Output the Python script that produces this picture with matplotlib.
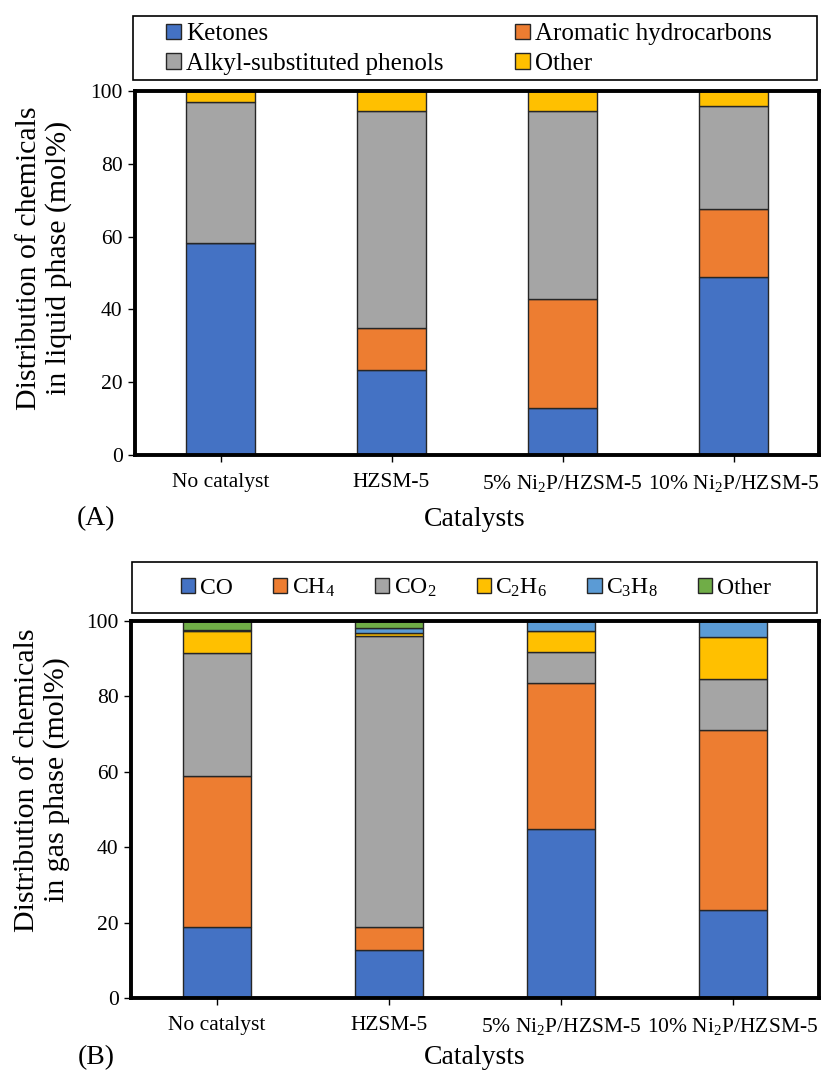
import matplotlib
matplotlib.use("Agg")
import matplotlib.pyplot as plt
from matplotlib.patches import Patch, Rectangle

plt.rcParams['font.family'] = ['Liberation Serif', 'DejaVu Serif']
plt.rcParams['mathtext.fontset'] = 'custom'
plt.rcParams['mathtext.rm'] = 'Liberation Serif'
plt.rcParams['mathtext.it'] = 'Liberation Serif:italic'
plt.rcParams['mathtext.bf'] = 'Liberation Serif:bold'

catalysts = ['No catalyst', 'HZSM-5', '5% Ni$_2$P/HZSM-5', '10% Ni$_2$P/HZSM-5']

# Liquid phase (mol%)
liq_labels = ['Ketones', 'Aromatic hydrocarbons', 'Alkyl-substituted phenols', 'Other']
ketones = [58.2, 23.4, 12.9, 48.9]
aromatics = [0.0, 11.4, 30.0, 18.8]
phenols = [38.8, 59.8, 51.7, 28.2]
other_liq = [3.0, 5.4, 5.4, 4.1]

# Gas phase (mol%)
gas_labels = ['CO', 'CH$_4$', 'CO$_2$', 'C$_2$H$_6$', 'C$_3$H$_8$', 'Other']
co = [18.8, 12.7, 44.8, 23.3]
ch4 = [40.1, 6.2, 38.7, 47.8]
co2 = [32.7, 77.2, 8.4, 13.6]
c2h6 = [5.8, 0.6, 5.5, 11.1]
c3h8 = [0.3, 1.4, 2.6, 4.2]
other_gas = [2.3, 1.9, 0.0, 0.0]

liq_colors = ['#4472C4', '#ED7D31', '#A5A5A5', '#FFC000']
gas_colors = ['#4472C4', '#ED7D31', '#A5A5A5', '#FFC000', '#5B9BD5', '#70AD47']

W, H = 821, 1077
fig = plt.figure(figsize=(W / 100, H / 100), dpi=100)


def fx(px):
    return px / W


def fy(py):
    return 1 - py / H


def make_axes(left, right, top, bottom):
    return fig.add_axes([fx(left), fy(bottom), fx(right) - fx(left), fy(top) - fy(bottom)])


def draw_stack(ax, series, colors):
    x = list(range(len(catalysts)))
    bottom = [0.0] * len(catalysts)
    for vals, c in zip(series, colors):
        ax.bar(x, vals, width=0.4, bottom=bottom, color=c, edgecolor='#262626',
               linewidth=1.0, zorder=2)
        bottom = [b + v for b, v in zip(bottom, vals)]
    ax.set_xlim(-0.5, 3.5)
    ax.set_ylim(0, 100)
    ax.set_yticks([0, 20, 40, 60, 80, 100])
    ax.set_xticks(x)
    ax.set_xticklabels(catalysts, fontsize=15.5)
    ax.tick_params(axis='y', labelsize=15.5, length=5, width=1, direction='out', pad=4)
    ax.tick_params(axis='x', length=5, width=1, direction='out', pad=8)
    for s in ax.spines.values():
        s.set_linewidth(2.8)
        s.set_color('black')
        s.set_zorder(3)


# Panel A
axA = make_axes(135, 819, 91, 455)
draw_stack(axA, [ketones, aromatics, phenols, other_liq], liq_colors)

# Panel B
axB = make_axes(131, 819, 621, 998)
draw_stack(axB, [co, ch4, co2, c2h6, c3h8, other_gas], gas_colors)

# Y labels
fig.text(fx(44), fy(258), 'Distribution of chemicals\nin liquid phase (mol%)', rotation=90,
         ha='center', va='center', fontsize=21.5, linespacing=1.12, multialignment='center')
fig.text(fx(42), fy(780), 'Distribution of chemicals\nin gas phase (mol%)', rotation=90,
         ha='center', va='center', fontsize=21.5, linespacing=1.12, multialignment='center')

# X labels and panel tags
fig.text(fx(475), fy(519), 'Catalysts', ha='center', va='center', fontsize=20)
fig.text(fx(96), fy(519), '(A)', ha='center', va='center', fontsize=20)
fig.text(fx(475), fy(1058), 'Catalysts', ha='center', va='center', fontsize=20)
fig.text(fx(96), fy(1058), '(B)', ha='center', va='center', fontsize=20)

# Legend A frame + legend (row-wise order: Ketones, Aromatic / Alkyl, Other)
fig.patches.append(Rectangle((fx(133), fy(80)), fx(817) - fx(133), fy(16) - fy(80),
                             transform=fig.transFigure, fill=False, edgecolor='black',
                             linewidth=1.2))
orderA = [0, 2, 1, 3]
handlesA = [Patch(facecolor=liq_colors[i], edgecolor='#262626', linewidth=1.0) for i in orderA]
labelsA = [liq_labels[i] for i in orderA]
fig.legend(handlesA, labelsA, ncol=2, frameon=False, fontsize=18,
           bbox_to_anchor=(fx(166), fy(80), fx(772) - fx(166), fy(18) - fy(80)),
           loc='center', mode='expand', handlelength=0.6, handleheight=0.6,
           handletextpad=0.2, labelspacing=0.3, borderpad=0.0, borderaxespad=0.0)

# Legend B frame + legend
fig.patches.append(Rectangle((fx(132), fy(613)), fx(817) - fx(132), fy(562) - fy(613),
                             transform=fig.transFigure, fill=False, edgecolor='black',
                             linewidth=1.2))
handlesB = [Patch(facecolor=c, edgecolor='#262626', linewidth=1.0) for c in gas_colors]
fig.legend(handlesB, gas_labels, ncol=6, frameon=False, fontsize=17,
           bbox_to_anchor=(fx(476), fy(588)), loc='center',
           handlelength=0.6, handleheight=0.6, handletextpad=0.2, columnspacing=1.7,
           borderpad=0.0, borderaxespad=0.0)

fig.savefig('out.png', dpi=100)
